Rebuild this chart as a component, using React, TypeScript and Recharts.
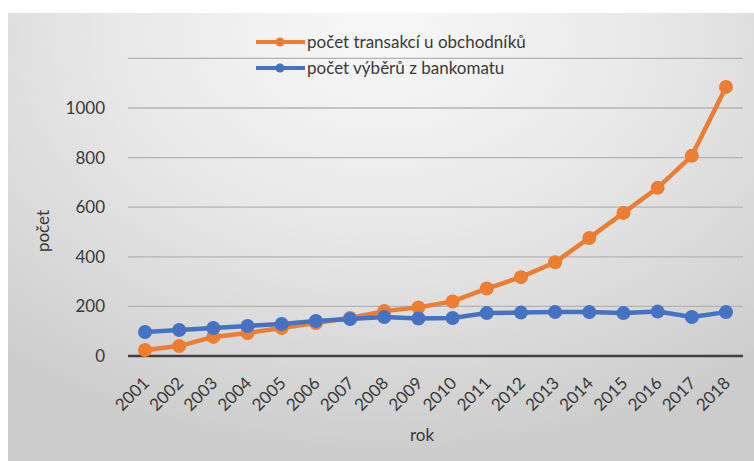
import React from "react";
import { LineChart, Line, XAxis, YAxis, CartesianGrid } from "recharts";

const years = ["2001","2002","2003","2004","2005","2006","2007","2008","2009","2010","2011","2012","2013","2014","2015","2016","2017","2018"];
const transakce = [24, 40, 77, 93, 113, 133, 153, 181, 196, 220, 272, 318, 378, 476, 577, 678, 807, 1085];
const vybery = [97, 105, 113, 121, 129, 141, 149, 157, 151, 153, 173, 175, 177, 177, 173, 179, 157, 177];
const yTicks = [0, 200, 400, 600, 800, 1000];

const seriesNames = ["počet transakcí u obchodníků", "počet výběrů z bankomatu"];
const colors = ["#ED7D31", "#4472C4"];

const data = years.map((y, i) => ({ rok: y, a: transakce[i], b: vybery[i] }));

const FONT = "Lato, 'Open Sans', sans-serif";
const TEXT = "#3a3a3a";

const XTick = (props: any) => {
  const { x, y, payload } = props;
  return (
    <g transform={`translate(${x + 1},${y + 24})`}>
      <text x={0} y={0} dy="0.35em" textAnchor="end" transform="rotate(-45)" fill={TEXT} fontSize={17} fontFamily={FONT}>
        {payload.value}
      </text>
    </g>
  );
};

const LegendBox = () => (
  <svg width={746} height={80} style={{ position: "absolute", left: 0, top: 0, overflow: "visible" }}>
    {seriesNames.map((n, i) => {
      const cy = 29 + i * 26;
      return (
        <g key={n}>
          <line x1={248} x2={297} y1={cy} y2={cy} stroke={colors[i]} strokeWidth={4} />
          <circle cx={272} cy={cy} r={4.5} fill={colors[i]} />
          <text x={299} y={cy} dy="0.35em" fill={TEXT} fontSize={17} fontFamily={FONT}>{n}</text>
        </g>
      );
    })}
  </svg>
);

export default function App() {
  return (
    <div
      style={{
        position: "absolute",
        left: 8,
        top: 13,
        width: 746,
        height: 448,
        background: "radial-gradient(ellipse 80% 95% at 50% 5%, #f8f8f8 0%, #e8e8e8 45%, #cccccc 100%)",
        overflow: "hidden",
      }}
    >
      <div style={{ position: "absolute", left: 0, top: 0 }}>
        <LineChart width={746} height={448} data={data} margin={{ top: 45.4, right: 11, bottom: 0, left: 0 }}>
          <CartesianGrid vertical={false} stroke="#b3b3b3" strokeWidth={1.3} />
          <XAxis
            dataKey="rok"
            height={105}
            padding={{ left: 17, right: 17 }}
            tickSize={0}
            tickMargin={0}
            interval={0}
            tick={<XTick />}
            axisLine={{ stroke: "#404040", strokeWidth: 2.6 }}
            tickLine={false}
            label={{ value: "rok", content: () => (
              <text x={414} y={422} dy="0.35em" textAnchor="middle" fill={TEXT} fontSize={17} fontFamily={FONT}>rok</text>
            ) }}
          />
          <YAxis
            width={120}
            domain={[0, 1200]}
            ticks={yTicks}
            interval={0}
            axisLine={false}
            tickLine={false}
            tickSize={0}
            tickMargin={23}
            tick={{ fill: TEXT, fontSize: 17, fontFamily: FONT }}
            label={{ value: "počet", content: () => (
              <text x={35} y={218} dy="0.35em" textAnchor="middle" transform="rotate(-90 35 218)" fill={TEXT} fontSize={17} fontFamily={FONT}>počet</text>
            ) }}
          />
          <Line dataKey="a" name={seriesNames[0]} stroke={colors[0]} strokeWidth={4.5} dot={{ r: 7, fill: colors[0], stroke: "none" }} isAnimationActive={false} />
          <Line dataKey="b" name={seriesNames[1]} stroke={colors[1]} strokeWidth={4.5} dot={{ r: 7, fill: colors[1], stroke: "none" }} isAnimationActive={false} />
        </LineChart>
      </div>
      <LegendBox />
    </div>
  );
}
